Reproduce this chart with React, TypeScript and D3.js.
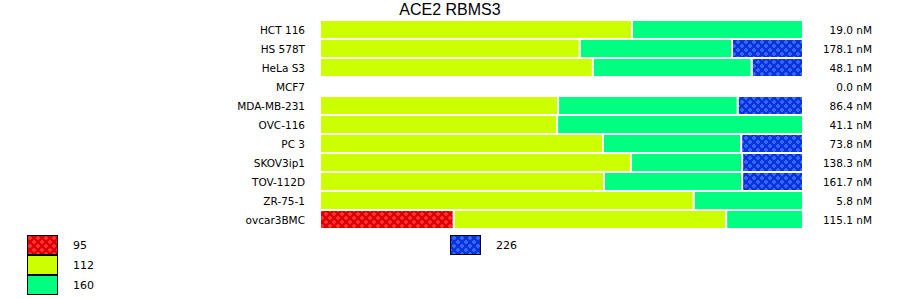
import React from "react";
import * as d3 from "d3";

const title = "ACE2 RBMS3";
const cellLines = ["HCT 116", "HS 578T", "HeLa S3", "MCF7", "MDA-MB-231", "OVC-116", "PC 3", "SKOV3ip1", "TOV-112D", "ZR-75-1", "ovcar3BMC"];
const totals = ["19.0 nM", "178.1 nM", "48.1 nM", "0.0 nM", "86.4 nM", "41.1 nM", "73.8 nM", "138.3 nM", "161.7 nM", "5.8 nM", "115.1 nM"];
const seriesKeys = ["95", "112", "160", "226"];
const s95 = [0, 0, 0, 0, 0, 0, 0, 0, 0, 0, 27.7];
const s112 = [64.6, 53.8, 56.5, 0, 49.3, 49.1, 58.6, 64.4, 58.8, 77.4, 56.4];
const s160 = [35.4, 31.5, 32.9, 0, 37.2, 50.9, 28.6, 23.0, 28.6, 22.6, 15.9];
const s226 = [0, 14.7, 10.6, 0, 13.5, 0, 12.8, 12.6, 12.6, 0, 0];

const fills: Record<string, string> = {
  "95": "url(#pat95)",
  "112": "#ccff00",
  "160": "#00ff80",
  "226": "url(#pat226)",
};

const rows = cellLines.map((c, i) => ({
  name: c,
  "95": s95[i],
  "112": s112[i],
  "160": s160[i],
  "226": s226[i],
}));

const FONT = "'DejaVu Sans', Verdana, sans-serif";

function Pattern({ id, base, dot }: { id: string; base: string; dot: string }) {
  const dots = [
    [2, 2],
    [6, 6],
  ];
  return (
    <pattern id={id} width={8} height={8} patternUnits="userSpaceOnUse">
      <rect width={8} height={8} fill={base} />
      {dots.map(([x, y], k) => (
        <g key={k} fill={dot}>
          <rect x={x - 1} y={y - 2} width={2} height={4} />
          <rect x={x - 2} y={y - 1} width={4} height={2} />
        </g>
      ))}
    </pattern>
  );
}

export default function App() {
  const x = d3.scaleLinear().domain([0, 100]).range([320, 803]);
  const y = d3.scaleBand<string>().domain(cellLines).range([20, 20 + 19 * cellLines.length]).padding(0);
  const stack = d3.stack<any>().keys(seriesKeys)(rows as any);

  const legendItems = [
    { key: "95", x: 27, y: 235 },
    { key: "112", x: 27, y: 255 },
    { key: "160", x: 27, y: 275 },
    { key: "226", x: 450, y: 235 },
  ];

  return (
    <svg
      width={900}
      height={299}
      style={{ position: "absolute", left: 0, top: 0, background: "#fff" }}
      fontFamily={FONT}
    >
      <defs>
        <Pattern id="pat95" base="#dd0000" dot="#ff3030" />
        <Pattern id="pat226" base="#0a33dd" dot="#3068ff" />
      </defs>
      <text x={450} y={14.5} textAnchor="middle" fontFamily="'Liberation Sans', Arial, sans-serif" fontSize={16} fill="#000">
        {title}
      </text>
      {stack.map((layer) => (
        <g key={layer.key}>
          {layer.map((d, i) =>
            d[1] - d[0] > 0 ? (
              <rect
                key={i}
                x={x(d[0])}
                y={y(cellLines[i])!}
                width={x(d[1]) - x(d[0])}
                height={y.bandwidth()}
                fill={fills[layer.key]}
                stroke="#fff"
                strokeWidth={2}
              />
            ) : null
          )}
        </g>
      ))}
      {cellLines.map((c, i) => (
        <text key={c} x={305} y={y(c)! + y.bandwidth() / 2 + 4} textAnchor="end" fontSize={10.5} fill="#000">
          {c}
        </text>
      ))}
      {totals.map((t, i) => (
        <text key={i} x={872} y={y(cellLines[i])! + y.bandwidth() / 2 + 4} textAnchor="end" fontSize={10.5} fill="#000">
          {t}
        </text>
      ))}
      {legendItems.map((l) => (
        <g key={l.key}>
          <rect x={l.x + 0.5} y={l.y + 0.5} width={30} height={19} fill={fills[l.key]} stroke="#000" strokeWidth={1} />
          <text x={l.x + 46} y={l.y + 14} fontSize={11} fill="#000">
            {l.key}
          </text>
        </g>
      ))}
    </svg>
  );
}
